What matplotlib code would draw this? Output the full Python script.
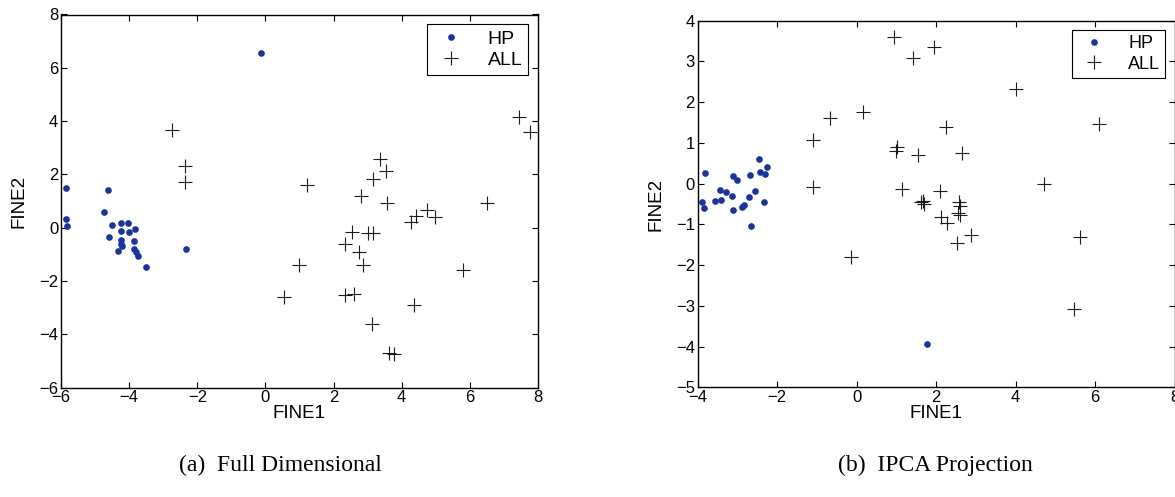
import matplotlib
matplotlib.use("Agg")
import matplotlib.pyplot as plt

# --- (a) Full Dimensional ---
hp_a_x = [-5.85, -4.63, -0.13, -5.85, -5.81, -4.74, -4.49, -4.59, -4.25, -4.03, -4.25, -4.00,
          -3.84, -4.23, -4.23, -4.22, -4.33, -3.87, -3.87, -3.80, -3.74, -3.50, -2.34]
hp_a_y = [1.50, 1.40, 6.54, 0.34, 0.08, 0.59, 0.10, -0.35, 0.16, 0.18, -0.11, -0.15,
          -0.04, -0.45, -0.61, -0.68, -0.86, -0.49, -0.81, -0.91, -1.05, -1.46, -0.81]
all_a_x = [-2.75, -2.35, -2.35, 0.55, 7.44, 7.77, 3.37, 3.54, 3.17, 1.23, 2.81, 3.58, 6.51,
           4.73, 4.41, 4.28, 4.99, 2.53, 3.00, 3.15, 2.34, 2.75, 2.87, 0.99, 5.79, 2.35,
           2.61, 4.35, 3.14, 3.63, 3.78]
all_a_y = [3.66, 2.31, 1.72, -2.59, 4.14, 3.60, 2.56, 2.11, 1.83, 1.60, 1.20, 0.93, 0.91,
           0.66, 0.44, 0.20, 0.40, -0.17, -0.21, -0.21, -0.62, -0.91, -1.40, -1.40, -1.59,
           -2.54, -2.50, -2.91, -3.61, -4.71, -4.75]

# --- (b) IPCA Projection ---
hp_b_x = [-3.90, -3.84, -3.82, -3.56, -3.44, -3.42, -3.30, -3.14, -3.12, -3.01, -3.11, -2.89,
          -2.83, -2.71, -2.68, -2.57, -2.46, -2.42, -2.31, -2.25, -2.33, -2.67, 1.78]
hp_b_y = [-0.46, -0.60, 0.26, -0.42, -0.15, -0.40, -0.20, -0.30, 0.20, 0.09, -0.65, -0.58,
          -0.53, -0.33, 0.21, -0.19, 0.61, 0.28, 0.24, 0.42, -0.46, -1.03, -3.94]
all_b_x = [0.95, 1.42, 1.94, 4.00, 2.24, 6.09, 0.17, -0.67, -1.09, -1.10, 1.01, 0.99, 1.55,
           2.66, 1.15, 2.11, 4.71, 1.62, 1.67, 1.70, 2.57, 2.61, 2.54, 2.59, 2.12, 2.27,
           2.88, 2.52, 5.63, 5.46, -0.14]
all_b_y = [3.61, 3.08, 3.35, 2.32, 1.39, 1.46, 1.77, 1.60, 1.07, -0.07, 0.91, 0.79, 0.70,
           0.76, -0.14, -0.18, -0.01, -0.45, -0.43, -0.50, -0.44, -0.56, -0.73, -0.78,
           -0.81, -0.97, -1.26, -1.46, -1.32, -3.08, -1.81]

blue = '#1b3497'
sans = ['Liberation Sans', 'DejaVu Sans']
serif = ['Liberation Serif', 'DejaVu Serif']

plt.rcParams['font.family'] = sans
plt.rcParams['axes.linewidth'] = 1.0

fig = plt.figure(figsize=(11.75, 4.97), dpi=100)
W, H = 1175.0, 497.0


def panel(rect, hx, hy, ax_x, ay, xlim, ylim, xt, yt, leg_fs):
    ax = fig.add_axes(rect)
    ax.plot(hx, hy, 'o', color=blue, markersize=4.8, markeredgewidth=0, label='HP')
    ax.plot(ax_x, ay, '+', color='#1a1a1a', markersize=10.5, markeredgewidth=0.8, label='ALL')
    ax.set_xlim(*xlim)
    ax.set_ylim(*ylim)
    ax.set_xticks(xt)
    ax.set_yticks(yt)
    ax.tick_params(direction='in', top=True, right=True, length=4, width=0.8,
                   labelsize=12, pad=2)
    ax.set_xlabel('FINE1', fontsize=13.5, labelpad=0)
    ax.set_ylabel('FINE2', fontsize=13.5, labelpad=8)
    leg = ax.legend(loc='upper right', fontsize=leg_fs, fancybox=False, framealpha=1,
                    edgecolor='black', borderaxespad=0.5, handletextpad=1.0,
                    borderpad=0.3, labelspacing=0.2, markerscale=1.0, handlelength=1.8)
    leg.get_frame().set_linewidth(0.8)
    return ax


panel([61 / W, 1 - 387.5 / H, (538 - 61) / W, (387.5 - 14.5) / H],
      hp_a_x, hp_a_y, all_a_x, all_a_y, (-6, 8), (-6, 8),
      range(-6, 9, 2), range(-6, 9, 2), 14)
panel([697.7 / W, 1 - 387.4 / H, (1174.5 - 697.7) / W, (387.4 - 20.7) / H],
      hp_b_x, hp_b_y, all_b_x, all_b_y, (-4, 8), (-5, 4),
      range(-4, 9, 2), range(-5, 5, 1), 13)

fig.text(280 / W, 1 - 465 / H, '(a)  Full Dimensional', family=serif, fontsize=17,
         ha='center', va='center')
fig.text(935 / W, 1 - 465 / H, '(b)  IPCA Projection', family=serif, fontsize=17,
         ha='center', va='center')

fig.savefig('out.png', dpi=100)
